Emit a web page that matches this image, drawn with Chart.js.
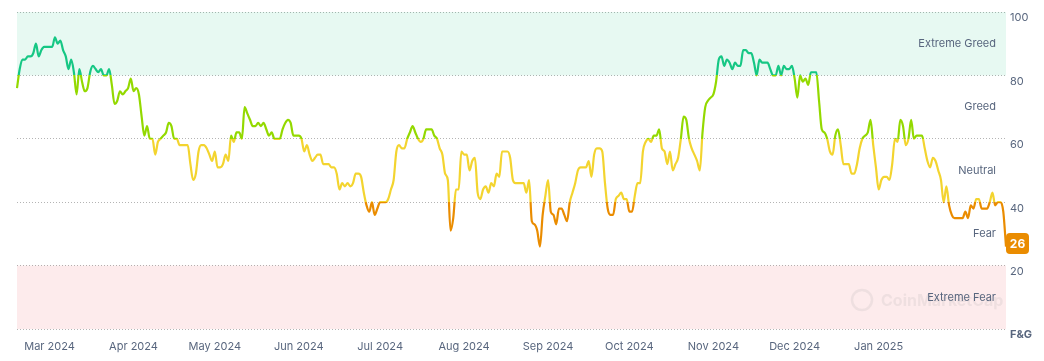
<!DOCTYPE html>
<html>
<head>
<meta charset="utf-8">
<script src="https://cdn.jsdelivr.net/npm/chart.js@4.4.1/dist/chart.umd.min.js"></script>
<style>
  html, body { margin: 0; padding: 0; background: #fff; }
</style>
</head>
<body>
<canvas id="fng" width="1044" height="361"></canvas>
<script>
// daily Fear & Greed values, 18 Feb 2024 .. 17 Feb 2025
const startDay = Date.UTC(2024, 1, 18);
const fngValues = [
  76, 82, 85, 85, 86, 86, 87, 90, 86, 88, 89, 89, 89, 89, 92, 90, 91, 88, 86, 82,
  85, 81, 74, 82, 78, 75, 76, 81, 83, 82, 81, 82, 80, 80, 82, 77, 71, 72, 75, 74,
  75, 76, 79, 75, 76, 74, 67, 61, 64, 60, 60, 55, 59, 60, 61, 62, 65, 64, 60, 60,
  58, 58, 58, 58, 52, 47, 49, 56, 58, 58, 57, 55, 53, 56, 51, 51, 52, 55, 53, 61,
  59, 62, 62, 60, 70, 68, 66, 64, 64, 65, 64, 65, 63, 61, 62, 60, 60, 60, 63, 65,
  66, 65, 61, 61, 61, 60, 56, 58, 55, 53, 54, 55, 55, 52, 52, 52, 51, 51, 49, 44,
  46, 45, 46, 45, 46, 49, 49, 48, 43, 39, 37, 40, 36, 38, 40, 40, 40, 41, 44, 47,
  56, 58, 57, 57, 60, 62, 64, 62, 60, 59, 60, 63, 63, 63, 61, 60, 57, 55, 49, 47,
  31, 35, 44, 44, 56, 55, 55, 50, 53, 54, 43, 41, 44, 45, 43, 46, 45, 49, 48, 56,
  56, 56, 54, 47, 46, 46, 46, 46, 43, 47, 34, 33, 31, 26, 36, 42, 47, 37, 36, 33,
  38, 38, 36, 34, 40, 43, 46, 50, 51, 51, 51, 53, 48, 55, 57, 57, 56, 46, 38, 36,
  36, 41, 42, 43, 41, 41, 37, 37, 42, 46, 46, 56, 59, 60, 59, 61, 61, 63, 57, 56,
  52, 56, 50, 52, 54, 60, 67, 66, 60, 57, 55, 53, 50, 62, 70, 72, 73, 74, 78, 85,
  86, 83, 85, 84, 82, 84, 83, 83, 88, 88, 87, 87, 84, 80, 85, 84, 84, 84, 82, 80,
  80, 83, 80, 83, 82, 82, 83, 79, 73, 80, 78, 79, 77, 81, 81, 81, 72, 63, 62, 60,
  56, 55, 61, 63, 58, 52, 52, 52, 49, 49, 52, 57, 60, 61, 62, 66, 58, 51, 44, 47,
  48, 48, 47, 52, 60, 59, 66, 64, 58, 60, 66, 60, 61, 61, 61, 57, 53, 51, 54, 53,
  50, 47, 40, 45, 39, 36, 35, 35, 35, 35, 37, 35, 39, 38, 41, 41, 38, 38, 38, 40,
  43, 39, 40, 40, 37, 26
];
const dayLabels = fngValues.map((v, i) => new Date(startDay + i * 86400000).toISOString().slice(0, 10));
const monthNames = ['Jan', 'Feb', 'Mar', 'Apr', 'May', 'Jun', 'Jul', 'Aug', 'Sep', 'Oct', 'Nov', 'Dec'];
const yTicks = [0, 20, 40, 60, 80, 100];
const zoneNames = ['Extreme Fear', 'Fear', 'Neutral', 'Greed', 'Extreme Greed'];
const zoneColors = ['#ea3943', '#ea8c00', '#f3d42f', '#93d900', '#16c784'];

const textColor = '#58667e';
const fontFamily = 'Inter, "Noto Sans", sans-serif';

function lineGradient(context) {
  const chart = context.chart;
  const { ctx, chartArea, scales } = chart;
  if (!chartArea) return zoneColors[2];
  const y0 = scales.y.getPixelForValue(0);
  const y100 = scales.y.getPixelForValue(100);
  const g = ctx.createLinearGradient(0, y0, 0, y100);
  zoneColors.forEach((c, i) => {
    g.addColorStop(i * 0.2, c);
    g.addColorStop(i * 0.2 + 0.2, c);
  });
  return g;
}

const zonesPlugin = {
  id: 'zones',
  beforeDatasetsDraw(chart) {
    const { ctx, chartArea, scales } = chart;
    const y = scales.y;
    ctx.save();
    ctx.fillStyle = 'rgba(22, 199, 132, 0.1)';
    ctx.fillRect(chartArea.left, y.getPixelForValue(100), chartArea.right - chartArea.left,
      y.getPixelForValue(80) - y.getPixelForValue(100));
    ctx.fillStyle = 'rgba(234, 57, 67, 0.1)';
    ctx.fillRect(chartArea.left, y.getPixelForValue(20), chartArea.right - chartArea.left,
      y.getPixelForValue(0) - y.getPixelForValue(20));

    // faint watermark
    ctx.fillStyle = 'rgba(140, 140, 140, 0.13)';
    ctx.strokeStyle = 'rgba(140, 140, 140, 0.13)';
    ctx.lineWidth = 2.5;
    ctx.beginPath();
    ctx.arc(862, 300, 10, 0, Math.PI * 2);
    ctx.stroke();
    ctx.font = 'bold 16px ' + fontFamily;
    ctx.textAlign = 'left';
    ctx.textBaseline = 'middle';
    ctx.fillText('CoinMarketCap', 881, 301);

    // zone names
    ctx.fillStyle = textColor;
    ctx.font = '11px ' + fontFamily;
    ctx.textAlign = 'right';
    zoneNames.forEach((name, i) => {
      ctx.fillText(name, chartArea.right - 10, y.getPixelForValue(i * 20 + 10));
    });
    ctx.restore();
  },
  afterDraw(chart) {
    const { ctx, chartArea, scales } = chart;
    const last = fngValues[fngValues.length - 1];
    const cy = scales.y.getPixelForValue(last) - 3;
    const x = chartArea.right, w = 23, h = 21;
    ctx.save();
    ctx.fillStyle = zoneColors[1];
    ctx.beginPath();
    ctx.roundRect(x, cy - h / 2, w, h, 4);
    ctx.fill();
    ctx.fillStyle = '#fff';
    ctx.font = 'bold 12px ' + fontFamily;
    ctx.textAlign = 'center';
    ctx.textBaseline = 'middle';
    ctx.fillText(String(last), x + w / 2, cy + 1);
    ctx.restore();
  }
};

new Chart(document.getElementById('fng'), {
  type: 'line',
  data: {
    labels: dayLabels,
    datasets: [{
      label: 'F&G',
      data: fngValues,
      borderColor: lineGradient,
      borderWidth: 2.2,
      pointRadius: 0,
      cubicInterpolationMode: 'monotone',
      fill: false
    }]
  },
  options: {
    responsive: false,
    animation: false,
    events: [],
    layout: { padding: { top: 12, left: 17, right: 0, bottom: 0 } },
    plugins: {
      legend: { display: false },
      tooltip: { enabled: false }
    },
    scales: {
      x: {
        grid: { display: false },
        border: { display: false },
        afterFit(scale) { scale.height = 32; },
        ticks: {
          autoSkip: false,
          maxRotation: 0,
          minRotation: 0,
          padding: 3,
          color: textColor,
          font: { family: fontFamily, size: 11 },
          callback(value) {
            // the last, partial month gets no label
            if (value > dayLabels.length - 30) return null;
            const d = new Date(dayLabels[value] + 'T00:00:00Z');
            if (d.getUTCDate() !== 1) return null;
            return monthNames[d.getUTCMonth()] + ' ' + d.getUTCFullYear();
          }
        }
      },
      y: {
        position: 'right',
        min: 0,
        max: 100,
        afterFit(scale) { scale.width = 38; },
        afterBuildTicks(scale) { scale.ticks = yTicks.map(v => ({ value: v })); },
        grid: { color: '#b4b4b4', lineWidth: 1, drawTicks: false },
        border: { display: false, dash: [1, 2] },
        ticks: {
          padding: 4,
          labelOffset: 6,
          color: textColor,
          font: (c) => ({ family: fontFamily, size: 11, weight: c.tick && c.tick.value === 0 ? 'bold' : 'normal' }),
          callback: (v) => v === 0 ? 'F&G' : v
        }
      }
    }
  },
  plugins: [zonesPlugin]
});
</script>
</body>
</html>
